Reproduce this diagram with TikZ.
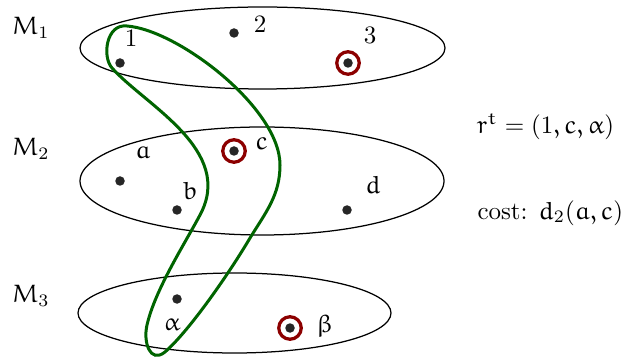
\documentclass[tikz,border=0pt]{standalone}
\DeclareSymbolFont{letters}{U}{eur}{m}{n}
\SetSymbolFont{letters}{bold}{U}{eur}{b}{n}
\definecolor{ringred}{RGB}{140,0,0}
\definecolor{loopgreen}{RGB}{0,100,0}
\tikzset{
  pt/.style={circle,fill=black!85,inner sep=0pt,minimum size=3.8pt},
  target/.style={circle,draw=ringred,line width=1.3pt,fill=white,inner sep=0pt,minimum size=9pt},
  set/.style={line width=0.5pt},
  lbl/.style={inner sep=0pt}
}
\begin{document}
\begin{tikzpicture}[x=0.4pt,y=-0.4pt]
\useasboundingbox (0,0) rectangle (631,358);
% sets
\draw[set] (262.5,48) ellipse [x radius=182.5, y radius=41];
\draw[set] (262,181) ellipse [x radius=182, y radius=54];
\draw[set] (234.5,313) ellipse [x radius=156.5, y radius=40];
\node[lbl] (M1) at (31,28) {$M_1$};
\node[lbl] (M2) at (31,149) {$M_2$};
\node[lbl] (M3) at (31,296) {$M_3$};
% M1 points
\node[pt] (p1) at (120,63) {};
\node[lbl] (l1) at (131,38) {$1$};
\node[pt] (p2) at (234,33) {};
\node[lbl] (l2) at (260,24) {$2$};
\node[target] (t3) at (348,63) {};
\node[pt] (p3) at (348,63) {};
\node[lbl] (l3) at (370,35) {$3$};
% M2 points
\node[pt] (pa) at (120,181) {};
\node[lbl] (la) at (143,153) {$a$};
\node[pt] (pb) at (177,210) {};
\node[lbl] (lb) at (190,191) {$b$};
\node[target] (tc) at (234,151) {};
\node[pt] (pc) at (234,151) {};
\node[lbl] (lc) at (262,144) {$c$};
\node[pt] (pd) at (347,210) {};
\node[lbl] (ld) at (373,185) {$d$};
% M3 points
\node[pt] (palpha) at (177,299) {};
\node[lbl] (lalpha) at (172,325) {$\alpha$};
\node[target] (tbeta) at (290,328) {};
\node[pt] (pbeta) at (290,328) {};
\node[lbl] (lbeta) at (325,326) {$\beta$};
% green loop
\draw[loopgreen,line width=1.2pt]
  (127,26) .. controls (178,30) and (280,108) .. (280,165)
  .. controls (280,195) and (266,212) .. (250,238)
  .. controls (230,272) and (190,330) .. (165,352)
  .. controls (150,364) and (143,342) .. (147,325)
  .. controls (155,290) and (184,245) .. (200,215)
  .. controls (235,150) and (145,105) .. (112,68)
  .. controls (102,57) and (106,23.5) .. cycle;
% right text
\node[lbl,anchor=west] (rt) at (476,127) {$r^t=(1,c,\alpha)$};
\node[lbl,anchor=west] (cost) at (477,213) {cost: $d_2(a,c)$};
\end{tikzpicture}
\end{document}
